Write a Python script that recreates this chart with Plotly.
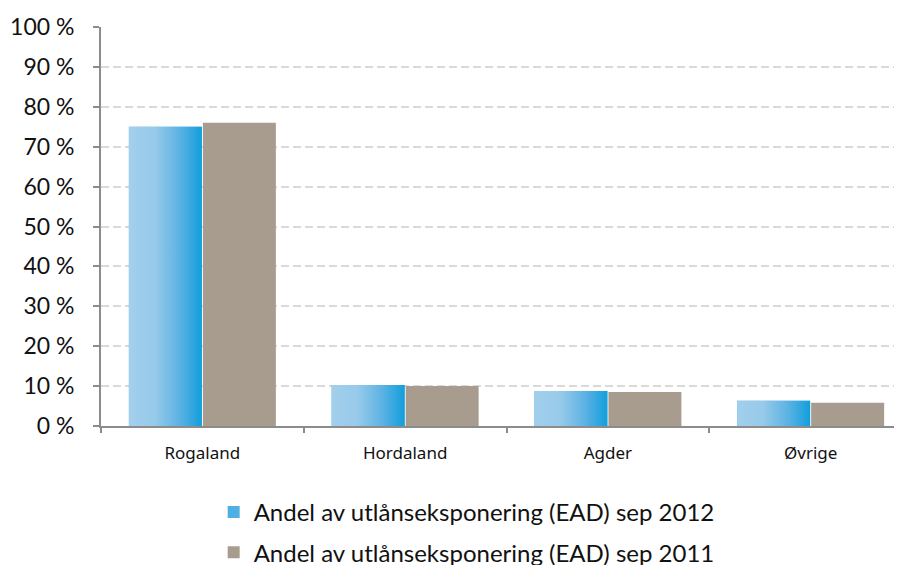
import plotly.graph_objects as go

categories = ["Rogaland", "Hordaland", "Agder", "Øvrige"]
sep2012 = [75.0, 10.3, 8.8, 6.3]
sep2011 = [76.0, 10.0, 8.5, 5.8]
name2012 = "Andel av utlånseksponering (EAD) sep 2012"
name2011 = "Andel av utlånseksponering (EAD) sep 2011"
yticks = list(range(0, 101, 10))

BLUE_MID = "#4FAEE2"
BROWN = "#A89C8F"
BAR_W = 0.36
GAP = 0.005

xpos = list(range(len(categories)))

fig = go.Figure()

fig.add_trace(go.Bar(
    x=xpos, y=sep2012, name=name2012, width=BAR_W, offset=-BAR_W - GAP / 2,
    marker=dict(color=BLUE_MID, line=dict(width=0)), legendgroup="a",
))
for xi, v in zip(xpos, sep2012):
    x0 = xi - BAR_W - GAP / 2
    x1 = xi - GAP / 2
    fig.add_trace(go.Scatter(
        x=[x0, x1, x1, x0, x0], y=[0, 0, v, v, 0], mode="lines",
        line=dict(width=0), fill="toself",
        fillgradient=dict(type="horizontal",
                          colorscale=[[0, "#A2CFEC"], [0.35, "#98CAEA"], [0.7, "#5BB2E3"], [1, "#129EDC"]]),
        showlegend=False, hoverinfo="skip",
    ))

fig.add_trace(go.Bar(
    x=xpos, y=sep2011, name=name2011, width=BAR_W, offset=GAP / 2,
    marker=dict(color=BROWN, line=dict(width=0)), legendgroup="b",
))

fig.add_trace(go.Scatter(x=[-0.5], y=[0], xaxis="x2", mode="markers",
                         marker=dict(opacity=0), showlegend=False, hoverinfo="skip"))

xr = [-0.5, 3.49]
fig.update_layout(
    width=902, height=565,
    margin=dict(l=93, r=0, t=19, b=147, autoexpand=False),
    paper_bgcolor="white", plot_bgcolor="white",
    barmode="overlay",
    showlegend=True,
    legend=dict(
        orientation="v", x=0.452, xanchor="center", y=-0.16, yanchor="top",
        font=dict(family="Lato", size=24, color="#111111"),
        traceorder="grouped", tracegroupgap=6, itemsizing="constant",
    ),
    xaxis=dict(
        range=xr, tickmode="array", tickvals=xpos, ticktext=categories,
        ticks="", showgrid=False, zeroline=False, automargin=False,
        showline=True, linecolor="#8C8C8C", linewidth=2,
        tickfont=dict(family="Noto Sans", size=17, color="#111111"),
        ticklabelstandoff=11,
    ),
    xaxis2=dict(
        range=xr, overlaying="x", side="bottom", tickmode="array",
        tickvals=[-0.5, 0.5, 1.5, 2.5, 3.5], showticklabels=False,
        ticks="outside", ticklen=6, tickwidth=2, tickcolor="#8C8C8C",
        showgrid=False, zeroline=False, showline=False, automargin=False,
    ),
    yaxis=dict(
        range=[0, 100], tickmode="array", tickvals=yticks,
        ticktext=[f"{t} %" for t in yticks],
        ticks="outside", ticklen=6, tickwidth=2, tickcolor="#8C8C8C",
        showline=True, linecolor="#8C8C8C", linewidth=2,
        showgrid=True, gridcolor="#D9D9D9", griddash="8px,4px", gridwidth=2,
        zeroline=False, automargin=False,
        tickfont=dict(family="Lato", size=23, color="#111111"),
        ticklabelstandoff=14,
    ),
)

fig.write_html("out.html")
